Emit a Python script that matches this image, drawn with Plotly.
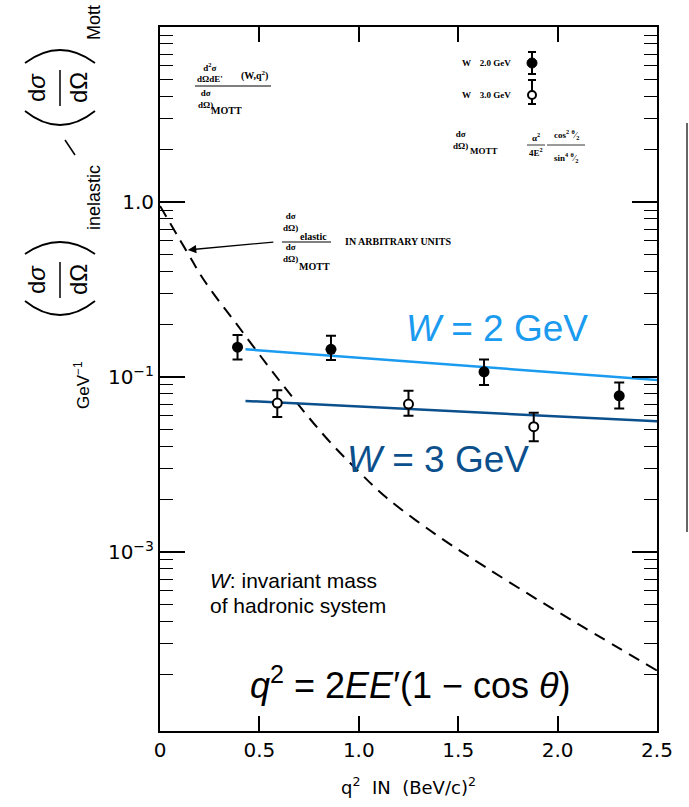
import plotly.graph_objects as go

# ---------------- data ----------------
w2_q2 = [0.39, 0.86, 1.63, 2.31]
w2_val = [0.148, 0.144, 0.107, 0.078]
w2_hi = [0.174, 0.172, 0.126, 0.093]
w2_lo = [0.126, 0.125, 0.090, 0.066]

w3_q2 = [0.59, 1.25, 1.88]
w3_val = [0.071, 0.070, 0.052]
w3_hi = [0.084, 0.0835, 0.0625]
w3_lo = [0.059, 0.060, 0.043]

w2_fit_q2 = [0.43, 2.5]
w2_fit_val = [0.144, 0.096]
w3_fit_q2 = [0.43, 2.5]
w3_fit_val = [0.073, 0.0558]

elastic_q2 = [0.0, 0.16, 0.21, 0.28, 0.36, 0.60, 0.83, 1.0, 1.14, 1.40, 1.63, 1.91, 2.13, 2.5]
elastic_val = [0.95, 0.466, 0.374, 0.288, 0.219, 0.0955, 0.0457, 0.0288, 0.0204, 0.0123,
               0.0083, 0.00525, 0.00372, 0.0021]

x_tickvals = [0, 0.5, 1.0, 1.5, 2.0, 2.5]
x_ticktext = ["0", "0.5", "1.0", "1.5", "2.0", "2.5"]
y_tickvals = [1.0, 0.1, 0.01]
y_ticktext = ["1.0", "10<sup>\u22121</sup>", "10<sup>\u22123</sup>"]
y_minor = [k * 10 ** d for d in range(-4, 1) for k in range(2, 10)]

LIGHT = "#1a9bf0"
DARK = "#0b4f8c"
W, H = 689, 807
L, R, T, B = 160, 657, 27, 731


def px(x):
    return (x - L) / (R - L)


def py(y):
    return (B - y) / (B - T)


fig = go.Figure()

fig.add_trace(go.Scatter(x=elastic_q2, y=elastic_val, mode="lines", line_shape="spline",
                         line=dict(color="black", width=2, dash="12px,8px", smoothing=1.0), showlegend=False))
fig.add_trace(go.Scatter(x=w2_fit_q2, y=w2_fit_val, mode="lines",
                         line=dict(color=LIGHT, width=2.5), showlegend=False))
fig.add_trace(go.Scatter(x=w3_fit_q2, y=w3_fit_val, mode="lines",
                         line=dict(color=DARK, width=2.5), showlegend=False))

fig.add_trace(go.Scatter(
    x=w2_q2, y=w2_val, mode="markers",
    marker=dict(symbol="circle", size=11, color="black"),
    error_y=dict(type="data", symmetric=False,
                 array=[h - v for h, v in zip(w2_hi, w2_val)],
                 arrayminus=[v - l for v, l in zip(w2_val, w2_lo)],
                 color="black", thickness=2, width=5),
    showlegend=False))
fig.add_trace(go.Scatter(
    x=w3_q2, y=w3_val, mode="markers",
    marker=dict(symbol="circle", size=9, color="white", line=dict(color="black", width=2)),
    error_y=dict(type="data", symmetric=False,
                 array=[h - v for h, v in zip(w3_hi, w3_val)],
                 arrayminus=[v - l for v, l in zip(w3_val, w3_lo)],
                 color="black", thickness=2, width=5),
    showlegend=False))

annotations = []
shapes = []


def ann(x, y, text, size, color="black", family="Liberation Sans", angle=0, xanchor="center", yanchor="middle"):
    annotations.append(dict(x=px(x), y=py(y), xref="paper", yref="paper", text=text, showarrow=False,
                            textangle=angle, xanchor=xanchor, yanchor=yanchor,
                            font=dict(size=size, color=color, family=family)))


def hline(x0, x1, y, w=1.2, color="black"):
    shapes.append(dict(type="line", xref="paper", yref="paper", x0=px(x0), x1=px(x1), y0=py(y), y1=py(y),
                       line=dict(color=color, width=w)))


def vline(x, y0, y1, w=1.2, color="black"):
    shapes.append(dict(type="line", xref="paper", yref="paper", x0=px(x), x1=px(x), y0=py(y0), y1=py(y1),
                       line=dict(color=color, width=w)))


def arc(x0, y0, xm, ym, x1, y1, w=1.8):
    cy = 2 * ym - (y0 + y1) / 2
    path = f"M {px(x0)},{py(y0)} Q {px(xm)},{py(cy)} {px(x1)},{py(y1)}"
    shapes.append(dict(type="path", xref="paper", yref="paper", path=path, line=dict(color="black", width=w)))


# ---------- y-axis title built from rotated pieces ----------
arc(25, 301, 60, 315, 95, 301)
ann(36, 280, "d<i>\u03c3</i>", 24, angle=-90)
vline(60, 262, 298, w=1.5)
ann(78, 280, "d\u03a9", 24, angle=-90)
arc(25, 254, 60, 242, 95, 254)
ann(94, 198, "inelastic", 18, angle=-90)
shapes.append(dict(type="line", xref="paper", yref="paper", x0=px(65), x1=px(75), y0=py(140), y1=py(155),
                   line=dict(color="black", width=1.5)))
arc(25, 111, 60, 125, 95, 111)
ann(36, 88, "d<i>\u03c3</i>", 24, angle=-90)
vline(60, 70, 106, w=1.5)
ann(78, 88, "d\u03a9", 24, angle=-90)
arc(25, 63, 60, 50, 95, 63)
ann(94, 23, "Mott", 18, angle=-90)
ann(82, 385, "GeV<sup>\u22121</sup>", 17, angle=-90)

# ---------- coloured labels ----------
ann(497, 328, "<i>W</i> = 2 GeV", 37, color=LIGHT)
ann(438, 460, "<i>W</i> = 3 GeV", 37, color=DARK)
ann(208, 580, "<i>W</i>: invariant mass", 21, xanchor="left")
ann(208, 605, "of hadronic system", 21, xanchor="left")
ann(410, 683, "<i>q</i><sup>2</sup> = 2<i>EE</i>\u2032(1 \u2212 cos <i>\u03b8</i>)", 36)

# ---------- small scanned labels ----------
SER = "Liberation Serif"
ann(210, 72, "<b>d<sup>2</sup>\u03c3</b><br><b>d\u03a9dE'</b>", 9, family=SER)
ann(254, 75, "<b>(W,q<sup>2</sup>)</b>", 10, family=SER)
hline(195, 271, 86, w=1)
ann(205, 99, "<b>d\u03c3</b><br><b>d\u03a9)</b>", 9, family=SER)
ann(226, 111, "<b>MOTT</b>", 10, family=SER)

# legend key
ann(486, 63, "<b>W    2.0 GeV</b>", 9, family=SER)
ann(486, 95, "<b>W    3.0 GeV</b>", 9, family=SER)
vline(532, 52, 74, w=2)
hline(528, 536, 52, w=2)
hline(528, 536, 74, w=2)
shapes.append(dict(type="circle", xref="paper", yref="paper", x0=px(527), x1=px(537), y0=py(58), y1=py(68),
                   fillcolor="black", line=dict(color="black", width=1)))
vline(532, 80, 104, w=2)
hline(528, 536, 80, w=2)
hline(528, 536, 104, w=2)
shapes.append(dict(type="circle", xref="paper", yref="paper", x0=px(528), x1=px(536), y0=py(91), y1=py(99),
                   fillcolor="white", line=dict(color="black", width=2)))

# Mott formula
ann(460, 140, "<b>d\u03c3</b><br><b>d\u03a9)</b>", 9, family=SER)
ann(484, 151, "<b>MOTT</b>", 9, family=SER)
ann(536, 137, "<b>\u03b1<sup>2</sup></b>", 9, family=SER)
hline(527, 545, 145, w=0.8)
ann(536, 152, "<b>4E<sup>2</sup></b>", 9, family=SER)
ann(566, 134, "<b>cos<sup>2</sup> <sup>\u03b8</sup>\u2044<sub>2</sub></b>", 9, family=SER)
hline(547, 585, 145, w=0.8)
ann(566, 157, "<b>sin<sup>4</sup> <sup>\u03b8</sup>\u2044<sub>2</sub></b>", 9, family=SER)

# elastic label
ann(290, 222, "<b>d\u03c3</b><br><b>d\u03a9)</b>", 9, family=SER)
ann(313, 236, "<b>elastic</b>", 10, family=SER)
hline(282, 331, 242, w=1)
ann(290, 253, "<b>d\u03c3</b><br><b>d\u03a9)</b>", 9, family=SER)
ann(314, 266, "<b>MOTT</b>", 10, family=SER)
ann(343, 241, "<b>IN ARBITRARY UNITS</b>", 10, family=SER, xanchor="left")

# arrow to the elastic curve
annotations.append(dict(x=0.14, y=-0.274, xref="x", yref="y", ax=87, ay=-8, text="",
                        showarrow=True, arrowhead=2, arrowsize=1.3, arrowwidth=1.3, arrowcolor="black"))

# scan artifact line at right
vline(687, 123, 532, w=1.5, color="#333333")

fig.update_layout(
    width=W, height=H,
    margin=dict(l=L, r=W - R, t=T, b=H - B),
    paper_bgcolor="white", plot_bgcolor="white",
    annotations=annotations, shapes=shapes,
    xaxis=dict(range=[0, 2.5], tickvals=x_tickvals, ticktext=x_ticktext,
               ticks="inside", ticklen=15, tickwidth=1.5, tickcolor="black",
               showline=True, linecolor="black", linewidth=2, mirror="ticks",
               showgrid=False, zeroline=False,
               tickfont=dict(size=20, family="DejaVu Sans", color="black"),
               title=dict(text="q<sup>2</sup>  IN  (BeV/c)<sup>2</sup>", standoff=20,
                          font=dict(size=18, family="DejaVu Sans", color="black"))),
    yaxis=dict(type="log", range=[-3.023, 1.0], tickvals=y_tickvals, ticktext=y_ticktext,
               ticks="inside", ticklen=25, tickwidth=1.5, tickcolor="black",
               minor=dict(tickvals=y_minor, ticks="inside", ticklen=13, tickwidth=1.3, tickcolor="black"),
               showline=True, linecolor="black", linewidth=2, mirror="ticks",
               showgrid=False, zeroline=False,
               tickfont=dict(size=20, family="DejaVu Sans", color="black")),
)

fig.write_html("out.html")
